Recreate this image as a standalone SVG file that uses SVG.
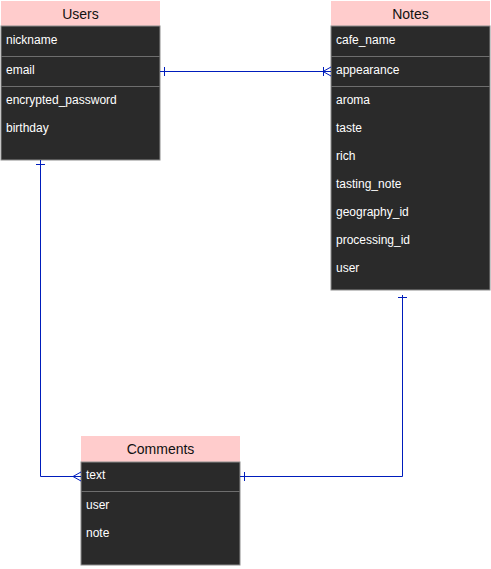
<svg xmlns="http://www.w3.org/2000/svg" width="491" height="569" viewBox="0 0 491 569">
<style>
.hdr{fill:#FFCCCC;}
.body{fill:#2a2a2a;stroke:#8c8c8c;stroke-width:1;}
.div{stroke:#6e6e6e;stroke-width:1;}
.ht{font-family:"Liberation Sans",Arial,sans-serif;font-size:14px;fill:#111;text-anchor:middle;}
.ft{font-family:"Liberation Sans",Arial,sans-serif;font-size:12px;fill:#ffffff;}
.ln{fill:none;stroke:#001DBC;stroke-width:1;}
</style>
<rect width="491" height="569" fill="#ffffff"/>
<g id="users">
<rect class="hdr" x="1" y="1" width="159" height="25"/>
<text class="ht" x="80.5" y="19">Users</text>
<rect class="body" x="1" y="26" width="159" height="134"/>
<line class="div" x1="1" y1="56.5" x2="160" y2="56.5"/>
<line class="div" x1="1" y1="86.5" x2="160" y2="86.5"/>
<text class="ft" x="6" y="44">nickname</text>
<text class="ft" x="6" y="74">email</text>
<text class="ft" x="6" y="104">encrypted_password</text>
<text class="ft" x="6" y="132">birthday</text>
</g>
<g id="notes">
<rect class="hdr" x="331" y="1" width="159" height="25"/>
<text class="ht" x="410.5" y="19">Notes</text>
<rect class="body" x="331" y="26" width="159" height="264"/>
<line class="div" x1="331" y1="56.5" x2="490" y2="56.5"/>
<line class="div" x1="331" y1="86.5" x2="490" y2="86.5"/>
<text class="ft" x="336" y="44">cafe_name</text>
<text class="ft" x="336" y="74">appearance</text>
<text class="ft" x="336" y="104">aroma</text>
<text class="ft" x="336" y="132">taste</text>
<text class="ft" x="336" y="160">rich</text>
<text class="ft" x="336" y="188">tasting_note</text>
<text class="ft" x="336" y="216">geography_id</text>
<text class="ft" x="336" y="244">processing_id</text>
<text class="ft" x="336" y="272">user</text>
</g>
<g id="comments">
<rect class="hdr" x="81" y="436" width="159" height="26"/>
<text class="ht" x="160.5" y="454">Comments</text>
<rect class="body" x="81" y="462" width="159" height="103"/>
<line class="div" x1="81" y1="491.5" x2="240" y2="491.5"/>
<text class="ft" x="86" y="479">text</text>
<text class="ft" x="86" y="509">user</text>
<text class="ft" x="86" y="537">note</text>
</g>
<g id="connectors">
<path class="ln" d="M160,71.5 L331,71.5"/>
<path class="ln" d="M164.5,67 L164.5,76"/>
<path class="ln" d="M323.5,67 L323.5,76"/>
<path class="ln" d="M331,67 L323,71.5 L331,76"/>
<path class="ln" d="M40.5,160 L40.5,476.5 L81,476.5"/>
<path class="ln" d="M36,164.5 L45,164.5"/>
<path class="ln" d="M81,472 L73,476.5 L81,481"/>
<path class="ln" d="M402.5,295 L402.5,476.5 L240,476.5"/>
<path class="ln" d="M398,297.5 L407,297.5"/>
<path class="ln" d="M244.5,472 L244.5,481"/>
</g>
</svg>
